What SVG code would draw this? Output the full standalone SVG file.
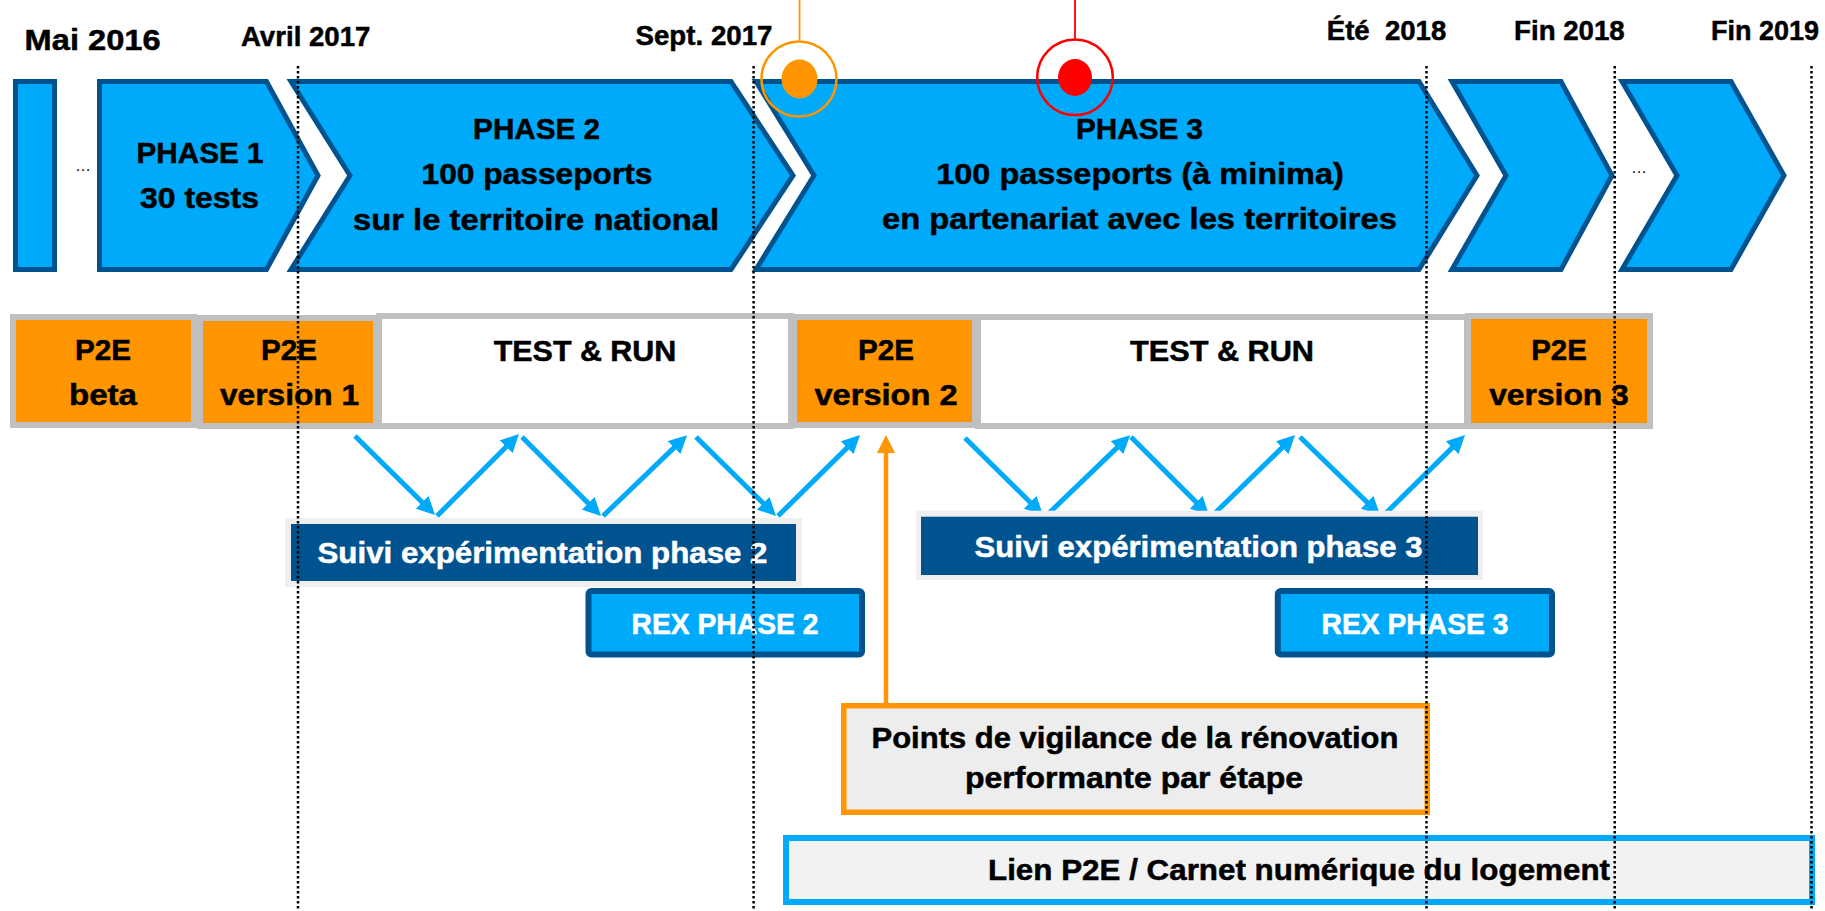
<svg xmlns="http://www.w3.org/2000/svg" width="1825" height="911" viewBox="0 0 1825 911">
<style>
.t{font-family:"Liberation Sans",Arial,sans-serif;font-weight:bold;text-anchor:middle;fill:#000;stroke:#000;stroke-width:0.5}
.date{font-size:28px}
.ph{font-size:30px}
.bx{font-size:29px}
.w{fill:#fff;stroke:#fff}
.chev{fill:#00AAFA;stroke:#00538F;stroke-width:5;stroke-linejoin:miter}
.p2e{fill:#FF9500;stroke:#BFBFBF;stroke-width:6}
.run{fill:#fff;stroke:#BFBFBF;stroke-width:6}
.zig{stroke:#00AAFA;stroke-width:5;fill:none;marker-end:url(#bh)}
.dot{stroke:#000;stroke-width:2.5;stroke-dasharray:2.5 2.5;fill:none}
.ell{font-family:"Liberation Sans",Arial,sans-serif;font-size:16px;text-anchor:middle;fill:#000}
</style>
<defs>
<marker id="bh" markerUnits="userSpaceOnUse" markerWidth="18" markerHeight="18" viewBox="0 0 18 18" refX="9" refY="9" orient="auto">
<path d="M0,0 L18,9 L0,18 Z" fill="#00AAFA"/>
</marker>
<marker id="oh" markerUnits="userSpaceOnUse" markerWidth="18" markerHeight="18" viewBox="0 0 18 18" refX="9" refY="9" orient="auto">
<path d="M0,0 L18,9 L0,18 Z" fill="#FF9500"/>
</marker>
</defs>

<g id="dates">
<text class="t" x="92.6" y="50" font-size="30" textLength="136" lengthAdjust="spacingAndGlyphs">Mai 2016</text>
<text class="t date" x="305.7" y="46" textLength="129.5" lengthAdjust="spacingAndGlyphs">Avril 2017</text>
<text class="t date" x="704" y="45" textLength="137" lengthAdjust="spacingAndGlyphs">Sept. 2017</text>
<text class="t date" x="1386.5" y="39.5" xml:space="preserve" textLength="119.5" lengthAdjust="spacingAndGlyphs">Été  2018</text>
<text class="t date" x="1569.4" y="39.5" textLength="110.7" lengthAdjust="spacingAndGlyphs">Fin 2018</text>
<text class="t date" x="1765" y="39.5" textLength="108" lengthAdjust="spacingAndGlyphs">Fin 2019</text>
</g>

<g id="phase0">
<rect class="chev" x="15.5" y="81.5" width="39" height="188"/>
</g>
<text class="ell" x="83" y="171">…</text>
<g id="phase1">
<path class="chev" d="M99.5,81.5 H266.5 L318,175.5 L266.5,269.5 H99.5 Z"/>
<text class="t ph" x="200" y="163.3" textLength="127" lengthAdjust="spacingAndGlyphs">PHASE 1</text>
<text class="t ph" x="199.5" y="208.3" textLength="119" lengthAdjust="spacingAndGlyphs">30 tests</text>
</g>
<g id="phase2">
<path class="chev" d="M291,81.5 H731 L793,175.5 L731,269.5 H291 L350,175.5 Z"/>
<text class="t ph" x="536.6" y="139.3" textLength="127" lengthAdjust="spacingAndGlyphs">PHASE 2</text>
<text class="t ph" x="537" y="184.3" textLength="231" lengthAdjust="spacingAndGlyphs">100 passeports</text>
<text class="t ph" x="536" y="229.5" textLength="366" lengthAdjust="spacingAndGlyphs">sur le territoire national</text>
</g>
<g id="phase3">
<path class="chev" d="M756,81.5 H1419 L1477,175.5 L1419,269.5 H756 L814,175.5 Z"/>
<text class="t ph" x="1139.5" y="139.3" textLength="127" lengthAdjust="spacingAndGlyphs">PHASE 3</text>
<text class="t ph" x="1140" y="184.3" textLength="407.5" lengthAdjust="spacingAndGlyphs">100 passeports (à minima)</text>
<text class="t ph" x="1139.5" y="229" textLength="515" lengthAdjust="spacingAndGlyphs">en partenariat avec les territoires</text>
</g>
<g id="phase4">
<path class="chev" d="M1452,81.5 H1561 L1612,175.5 L1561,269.5 H1452 L1506,175.5 Z"/>
</g>
<text class="ell" x="1639" y="173">…</text>
<g id="phase5">
<path class="chev" d="M1622,81.5 H1731 L1784,175.5 L1731,269.5 H1622 L1677,175.5 Z"/>
</g>

<g id="marker-orange">
<line x1="799.5" y1="0" x2="799.5" y2="41.5" stroke="#FF9500" stroke-width="1.8"/>
<circle cx="799" cy="79" r="37.5" fill="none" stroke="#FF9500" stroke-width="2.5"/>
<ellipse cx="799.5" cy="79" rx="18" ry="19.5" fill="#FF9500"/>
</g>
<g id="marker-red">
<line x1="1075" y1="0" x2="1075" y2="39.5" stroke="#FF0000" stroke-width="1.8"/>
<circle cx="1075" cy="77.3" r="37.8" fill="none" stroke="#FF0000" stroke-width="2.5"/>
<ellipse cx="1075" cy="77.5" rx="17" ry="18.5" fill="#FF0000"/>
</g>

<g id="p2e-beta">
<rect class="p2e" x="13" y="317" width="181" height="108"/>
<text class="t bx" x="103" y="360" textLength="56" lengthAdjust="spacingAndGlyphs">P2E</text>
<text class="t bx" x="103" y="405" textLength="68" lengthAdjust="spacingAndGlyphs">beta</text>
</g>
<g id="p2e-v1">
<rect class="p2e" x="200" y="318" width="176" height="108"/>
<text class="t bx" x="289" y="360" textLength="56" lengthAdjust="spacingAndGlyphs">P2E</text>
<text class="t bx" x="289.5" y="405" textLength="139" lengthAdjust="spacingAndGlyphs">version 1</text>
</g>
<g id="test-run-1">
<rect class="run" x="379" y="316" width="412" height="110"/>
<text class="t bx" x="585" y="360.7" textLength="182.5" lengthAdjust="spacingAndGlyphs">TEST &amp; RUN</text>
</g>
<g id="p2e-v2">
<rect class="p2e" x="794" y="317" width="181" height="108"/>
<text class="t bx" x="886" y="360" textLength="56" lengthAdjust="spacingAndGlyphs">P2E</text>
<text class="t bx" x="886" y="405" textLength="143" lengthAdjust="spacingAndGlyphs">version 2</text>
</g>
<g id="test-run-2">
<rect class="run" x="978" y="317" width="489" height="109"/>
<text class="t bx" x="1222" y="360.7" textLength="184" lengthAdjust="spacingAndGlyphs">TEST &amp; RUN</text>
</g>
<g id="p2e-v3">
<rect class="p2e" x="1468" y="316" width="182" height="110"/>
<text class="t bx" x="1559" y="360" textLength="55.5" lengthAdjust="spacingAndGlyphs">P2E</text>
<text class="t bx" x="1559" y="405" textLength="139.6" lengthAdjust="spacingAndGlyphs">version 3</text>
</g>

<g id="connectors">
<line class="zig" x1="355" y1="436" x2="428.6" y2="508.6"/>
<line class="zig" x1="437" y1="516" x2="512.6" y2="440.4"/>
<line class="zig" x1="522" y1="437" x2="594.6" y2="509.6"/>
<line class="zig" x1="603" y1="516" x2="680.6" y2="441.4"/>
<line class="zig" x1="696" y1="437" x2="769.6" y2="509.6"/>
<line class="zig" x1="778" y1="516" x2="853.6" y2="441.4"/>
<line class="zig" x1="965" y1="438" x2="1036.6" y2="508.6"/>
<line class="zig" x1="1046" y1="516" x2="1123.6" y2="441.4"/>
<line class="zig" x1="1131" y1="437" x2="1202.6" y2="508.6"/>
<line class="zig" x1="1212" y1="516" x2="1288.6" y2="441.4"/>
<line class="zig" x1="1300" y1="437" x2="1373.6" y2="508.6"/>
<line class="zig" x1="1383" y1="516" x2="1458.6" y2="441.4"/>
<line x1="886" y1="705" x2="886" y2="444" stroke="#FF9500" stroke-width="4.5" marker-end="url(#oh)"/>
</g>

<g id="suivi-2">
<rect x="285" y="518" width="517" height="69" fill="#EFEFEF"/>
<rect x="291" y="524" width="505" height="57" fill="#00538F"/>
<text class="t bx w" x="542.5" y="563.3" textLength="450" lengthAdjust="spacingAndGlyphs">Suivi expérimentation phase 2</text>
</g>
<g id="suivi-3">
<rect x="916" y="510.7" width="567" height="69.3" fill="#EFEFEF"/>
<rect x="921" y="516.7" width="557" height="58.3" fill="#00538F"/>
<text class="t bx w" x="1198.5" y="557.3" textLength="448" lengthAdjust="spacingAndGlyphs">Suivi expérimentation phase 3</text>
</g>
<g id="rex-2">
<rect x="588.5" y="591" width="273.5" height="63.5" rx="3" fill="#00AAFA" stroke="#00538F" stroke-width="6"/>
<text class="t bx w" x="725" y="634" textLength="187" lengthAdjust="spacingAndGlyphs">REX PHASE 2</text>
</g>
<g id="rex-3">
<rect x="1277.8" y="591" width="274.2" height="63.5" rx="3" fill="#00AAFA" stroke="#00538F" stroke-width="6"/>
<text class="t bx w" x="1415" y="634" textLength="187" lengthAdjust="spacingAndGlyphs">REX PHASE 3</text>
</g>
<g id="vigilance">
<rect x="843.75" y="705.75" width="583.5" height="106.5" fill="#EDEDED" stroke="#FF9500" stroke-width="5.5"/>
<text class="t bx" x="1135" y="748.3" textLength="527" lengthAdjust="spacingAndGlyphs">Points de vigilance de la rénovation</text>
<text class="t bx" x="1134" y="787.5" textLength="338" lengthAdjust="spacingAndGlyphs">performante par étape</text>
</g>
<g id="lien">
<rect x="786" y="838" width="1026" height="64" fill="#F2F2F2" stroke="#00AAFA" stroke-width="6"/>
<text class="t bx" x="1299" y="880" textLength="622" lengthAdjust="spacingAndGlyphs">Lien P2E / Carnet numérique du logement</text>
</g>

<g id="timeline-dots">
<line class="dot" x1="298" y1="66" x2="298" y2="911"/>
<line class="dot" x1="753.6" y1="66" x2="753.6" y2="911"/>
<line class="dot" x1="1426.5" y1="66" x2="1426.5" y2="911"/>
<line class="dot" x1="1614.7" y1="66" x2="1614.7" y2="911"/>
<line class="dot" x1="1811.5" y1="66" x2="1811.5" y2="911"/>
</g>
</svg>
